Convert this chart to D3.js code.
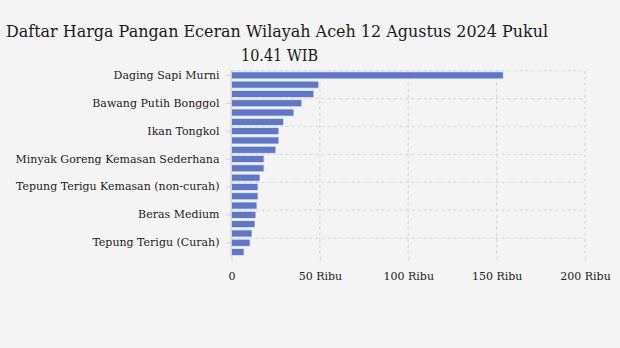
<!DOCTYPE html>
<html><head><meta charset="utf-8">
<script src="https://cdn.jsdelivr.net/npm/d3@7"></script>
<style>
html,body{margin:0;padding:0;background:#f4f4f4;}
svg{display:block;}
</style></head>
<body>
<svg id="c" width="620" height="348"></svg>
<script>
const categories = [
  "Daging Sapi Murni","Cabai Rawit Merah","Cabai Merah Keriting","Bawang Putih Bonggol",
  "Bawang Merah","Daging Ayam Ras","Ikan Tongkol","Ikan Bandeng","Telur Ayam Ras",
  "Minyak Goreng Kemasan Sederhana","Gula Konsumsi","Minyak Goreng Curah",
  "Tepung Terigu Kemasan (non-curah)","Beras Premium","Kedelai Biji Kering (Impor)",
  "Beras Medium","Beras SPHP","Garam Beryodium","Tepung Terigu (Curah)","Jagung Tk Peternak"
];
const values = [153750,49400,46600,39800,35300,29500,26800,26800,25100,18400,18400,16100,15000,15000,14400,13800,13300,11600,10500,7100];
const xTicks = [0,50000,100000,150000,200000];
const xTickLabels = ["0","50 Ribu","100 Ribu","150 Ribu","200 Ribu"];
const titleLines = ["Daftar Harga Pangan Eceran Wilayah Aceh 12 Agustus 2024 Pukul","10.41 WIB"];

const svg = d3.select("#c");
const m = {left:231.5, right:585, top:70.7, bottom:256.7};
const x = d3.scaleLinear().domain([0,200000]).range([m.left,m.right]);
const y = d3.scaleBand().domain(categories).range([m.top,m.bottom]).paddingInner(0.24).paddingOuter(0.12);
const font = "'DejaVu Serif', serif";

// title
svg.append("text").attr("x",277).attr("y",37).attr("text-anchor","middle")
  .attr("font-family",font).attr("font-size",17.5).attr("fill","#1a1a1a")
  .attr("textLength",542).attr("lengthAdjust","spacingAndGlyphs").text(titleLines[0]);
svg.append("text").attr("x",279.5).attr("y",61).attr("text-anchor","middle")
  .attr("font-family",font).attr("font-size",17.5).attr("fill","#1a1a1a")
  .attr("textLength",77).attr("lengthAdjust","spacingAndGlyphs").text(titleLines[1]);

// vertical grid
const grid = svg.append("g");
grid.selectAll("line.v").data(xTicks.slice(1)).join("line")
  .attr("x1",d=>x(d)).attr("x2",d=>x(d)).attr("y1",m.top).attr("y2",m.bottom)
  .attr("stroke","#d9d9d9").attr("stroke-width",1.2).attr("stroke-dasharray","3,3");
// horizontal grid at band boundaries every 3 categories
const step = y.step();
const hIdx = categories.map((d,i)=>i).filter(i=>i%3===0);
grid.selectAll("line.h").data(hIdx).join("line")
  .attr("x1",m.left).attr("x2",m.right)
  .attr("y1",i=>m.top+i*step).attr("y2",i=>m.top+i*step)
  .attr("stroke","#d9d9d9").attr("stroke-width",1.2).attr("stroke-dasharray","3,3");

// bars
svg.append("g").selectAll("rect").data(categories).join("rect")
  .attr("x",x(0)).attr("y",d=>y(d))
  .attr("width",(d,i)=>x(values[i])-x(0)).attr("height",y.bandwidth())
  .attr("fill","#5e77c8").attr("stroke","#e6eaf6").attr("stroke-width",0.8);

// y axis
const yAxis = d3.axisLeft(y).tickValues(categories.filter((d,i)=>i%3===0)).tickSize(5).tickPadding(7);
const ya = svg.append("g").attr("transform",`translate(${m.left},0)`).call(yAxis);
ya.select(".domain").attr("stroke","#cccccc").attr("d",`M-0.5,${m.top}V${m.bottom}`);
ya.selectAll(".tick line").attr("stroke","#cccccc");
ya.selectAll(".tick text").attr("font-family",font).attr("font-size",11).attr("fill","#222");

// x axis
const xAxis = d3.axisBottom(x).tickValues(xTicks).tickFormat((d,i)=>xTickLabels[i]).tickSize(4).tickPadding(12);
const xa = svg.append("g").attr("transform",`translate(0,${m.bottom})`).call(xAxis);
xa.select(".domain").remove();
xa.selectAll(".tick line").attr("stroke","#d9d9d9");
xa.selectAll(".tick text").attr("font-family",font).attr("font-size",11).attr("fill","#222");
</script>
</body></html>
